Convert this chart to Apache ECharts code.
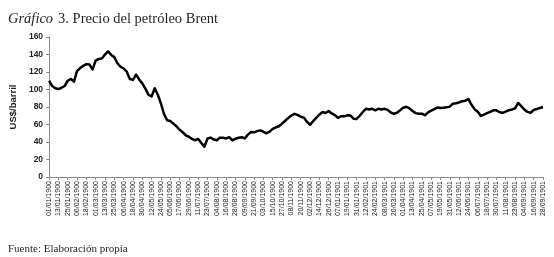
<!DOCTYPE html>
<html>
<head>
<meta charset="utf-8">
<script src="https://cdn.jsdelivr.net/npm/echarts@6/dist/echarts.min.js"></script>
<style>
  html, body { margin: 0; padding: 0; background: #fff; }
  #chart { width: 554px; height: 257px; }
</style>
</head>
<body>
<div id="chart"></div>
<script>
// etiquetas del eje X (cada 12 dias)
let tickLabels = [
    '01/01/1900', '13/01/1900', '25/01/1900', '06/02/1900', '18/02/1900', '01/03/1900',
    '13/03/1900', '25/03/1900', '06/04/1900', '18/04/1900', '30/04/1900', '12/05/1900',
    '24/05/1900', '05/06/1900', '17/06/1900', '29/06/1900', '11/07/1900', '23/07/1900',
    '04/08/1900', '16/08/1900', '28/08/1900', '09/09/1900', '21/09/1900', '03/10/1900',
    '15/10/1900', '27/10/1900', '08/11/1900', '20/11/1900', '02/12/1900', '14/12/1900',
    '26/12/1900', '07/01/1901', '19/01/1901', '31/01/1901', '12/02/1901', '24/02/1901',
    '08/03/1901', '20/03/1901', '01/04/1901', '13/04/1901', '25/04/1901', '07/05/1901',
    '19/05/1901', '31/05/1901', '12/06/1901', '24/06/1901', '06/07/1901', '18/07/1901',
    '30/07/1901', '11/08/1901', '23/08/1901', '04/09/1901', '16/09/1901', '28/09/1901'
]
let yTicks = [0, 20, 40, 60, 80, 100, 120, 140, 160]

// precio Brent, 3 observaciones por intervalo de etiqueta
let brent = [
    110, 104, 101.5, 100.5, 102, 104, 110, 112, 109, 121,
    124.5, 127, 129, 128.5, 123, 133, 135, 135.5, 140, 143.5,
    139.5, 137, 130, 126, 124, 120.3, 112, 111, 117, 111.5,
    107, 101, 94, 92, 101.5, 94, 84, 72, 64.8, 64,
    61, 58, 54, 51.2, 47.7, 46, 43.5, 42, 43.5, 39,
    34.5, 44, 45, 42.8, 42, 45, 44.8, 44, 45.5, 42,
    43.7, 44.8, 45.5, 44, 48.4, 51.4, 51, 52.4, 53.3, 51.7,
    50, 51.8, 55, 56.8, 58, 61, 64.3, 67.4, 70.3, 72.2,
    71, 68.8, 67.9, 63.2, 59.5, 63.8, 67.6, 71.2, 74.2, 73.2,
    75.4, 72.6, 70.8, 67.5, 69.3, 69.3, 70.5, 70.3, 66.7, 66.3,
    70, 74.3, 77.9, 77.2, 78, 76.2, 78, 77.2, 77.9, 76.7,
    73.7, 72.2, 73.5, 76.2, 79.2, 80.3, 78.4, 75.5, 73, 72.4,
    72.4, 70.6, 73.8, 75.8, 77.6, 79.4, 78.8, 79.2, 79.6, 80.4,
    83.8, 84.3, 85.2, 86.6, 87.2, 89, 82.5, 77.3, 74.5, 69.8,
    71.3, 72.9, 74.4, 76.2, 76.2, 74.2, 73.2, 74.8, 76.4, 77.1,
    78.5, 84.6, 81, 77.1, 74.4, 73.5, 76.6, 77.7, 78.9, 80
]

let categories = []
for (let k = 0; k < tickLabels.length; k++) {
    categories.push(tickLabels[k])
    if (k < tickLabels.length - 1) {
        categories.push(tickLabels[k] + ' b')
        categories.push(tickLabels[k] + ' c')
    }
}

let chart = echarts.init(document.querySelector('#chart'))
let option = {
    animation: false,
    backgroundColor: '#fff',
    title: [{
        left: 3,
        top: 5,
        text: '{i|Gráfico} {n|3. Precio del petróleo Brent}',
        textStyle: {
            rich: {
                i: { fontFamily: 'Liberation Serif', fontStyle: 'italic', fontWeight: 'normal', fontSize: 14.5, color: '#231f20' },
                n: { fontFamily: 'Liberation Serif', fontWeight: 'normal', fontSize: 14.5, color: '#231f20' }
            }
        }
    }, {
        left: 3,
        top: 239,
        text: 'Fuente: Elaboración propia',
        textStyle: { fontFamily: 'Liberation Serif', fontSize: 11, fontWeight: 'normal', color: '#231f20' }
    }],
    grid: { left: 48, right: 11, top: 37, bottom: 80 },
    xAxis: {
        type: 'category',
        boundaryGap: false,
        data: categories,
        axisLine: { lineStyle: { color: '#8c8c8c', width: 1 } },
        axisTick: {
            interval: function (i) { return i % 3 === 0 },
            length: 3,
            lineStyle: { color: '#8c8c8c' }
        },
        axisLabel: {
            interval: function (i) { return i % 3 === 0 },
            rotate: 90,
            margin: 4,
            fontFamily: 'Liberation Sans',
            fontSize: 7,
            color: '#222'
        },
        splitLine: { show: false }
    },
    yAxis: {
        type: 'value',
        min: yTicks[0],
        max: yTicks[yTicks.length - 1],
        interval: 20,
        name: 'US$/barril',
        nameLocation: 'middle',
        nameGap: 25,
        nameTextStyle: { fontFamily: 'Liberation Sans', fontWeight: 'bold', fontSize: 9.5, color: '#222' },
        axisLine: { show: true, lineStyle: { color: '#8c8c8c', width: 1 } },
        axisTick: { show: true, length: 3, lineStyle: { color: '#8c8c8c' } },
        axisLabel: {
            margin: 6,
            fontFamily: 'Liberation Sans',
            fontWeight: 'bold',
            fontSize: 8.5,
            color: '#222'
        },
        splitLine: { show: false }
    },
    series: [{
        name: 'Brent',
        type: 'line',
        data: brent,
        symbol: 'none',
        lineStyle: { color: '#000', width: 2.5, join: 'round' }
    }]
}
chart.setOption(option)
</script>
</body>
</html>
